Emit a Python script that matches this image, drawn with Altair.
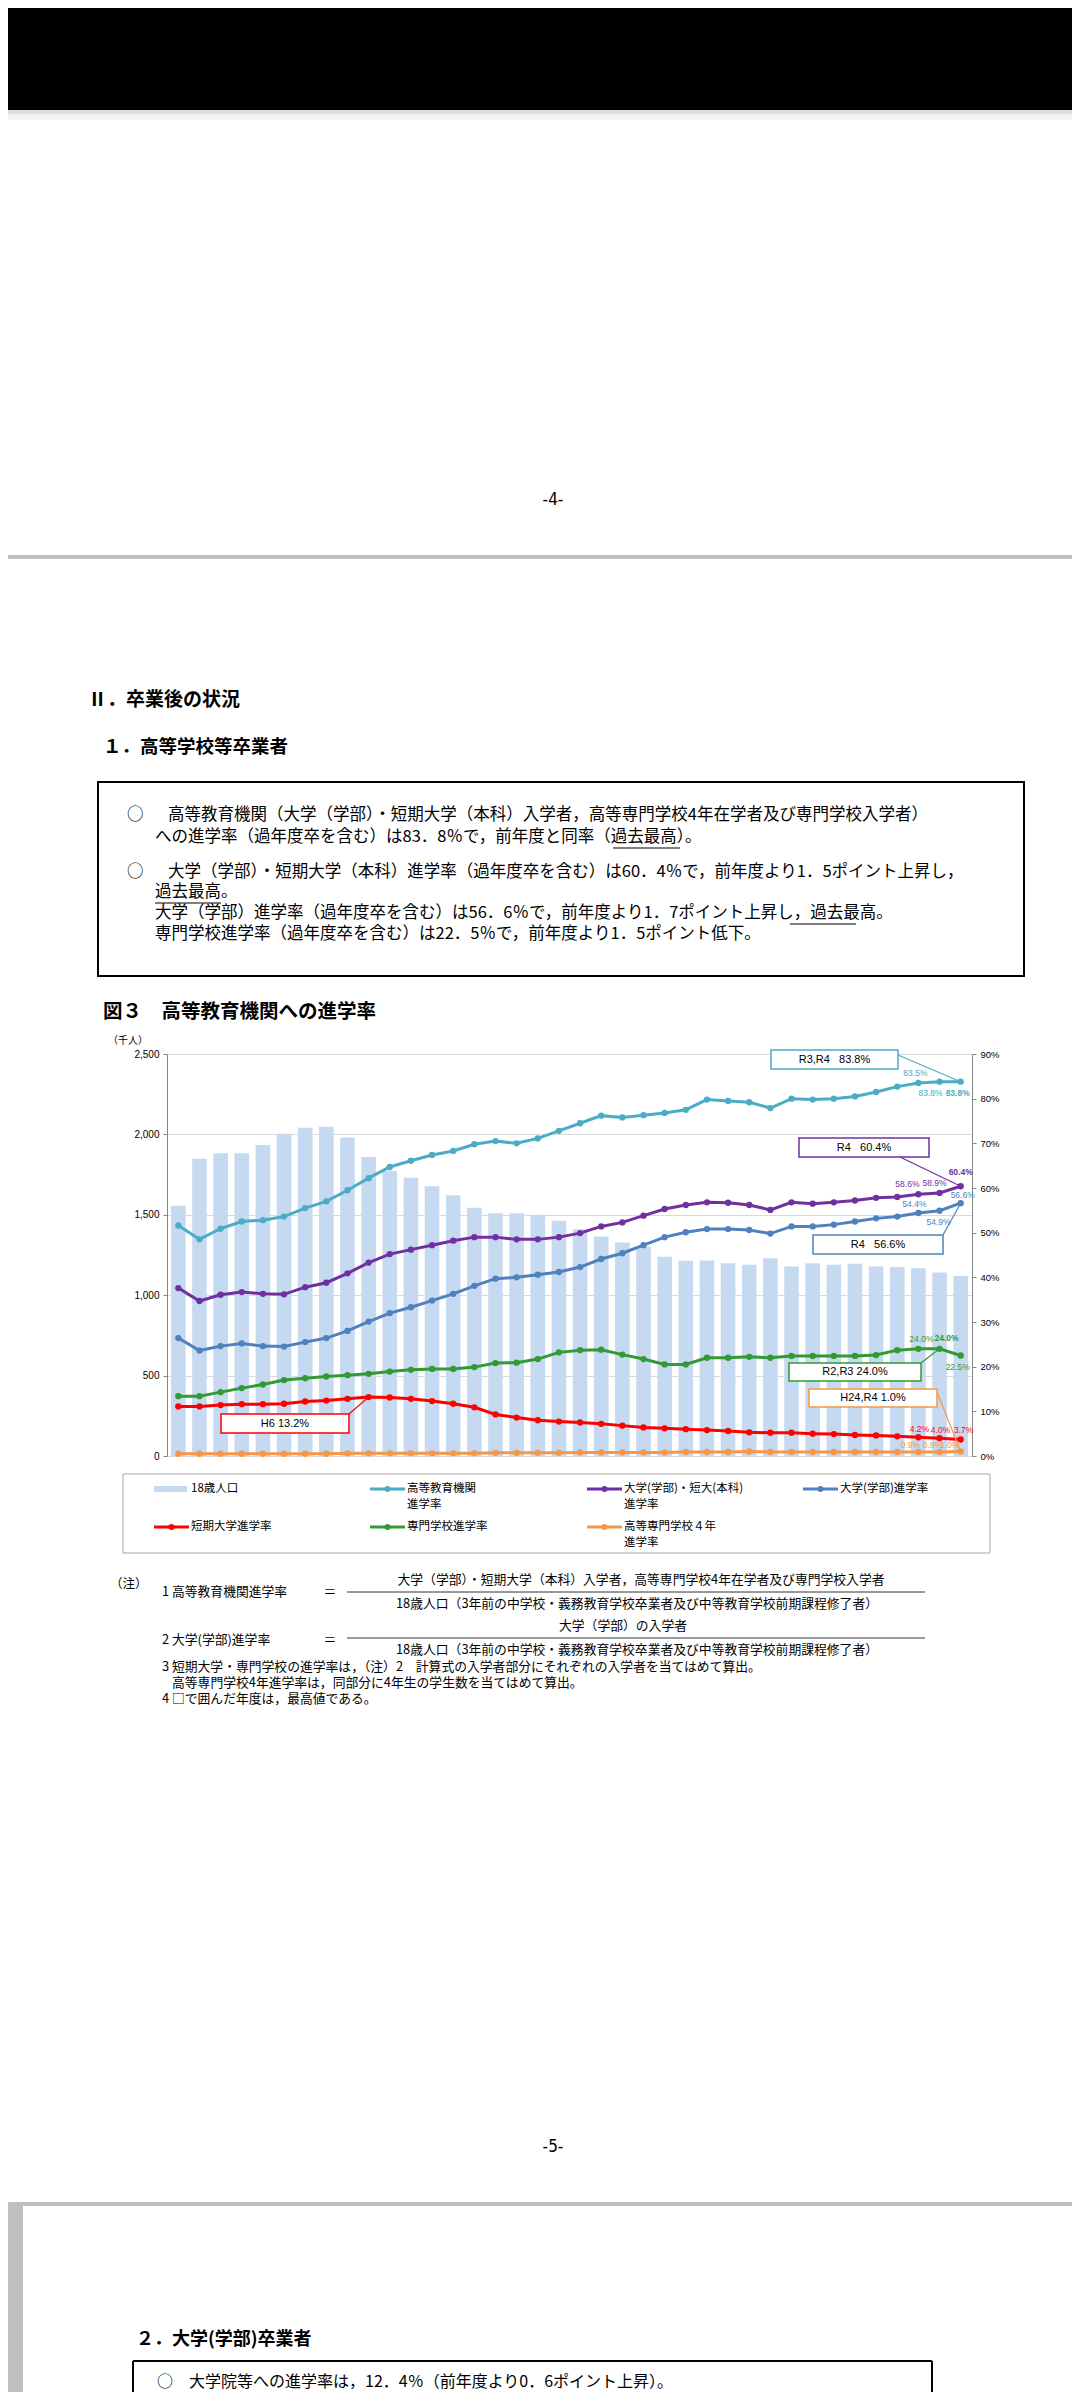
import altair as alt
import pandas as pd

# ---------------- data ----------------
years = list(range(1985, 2023))
x_label_map = {1985: "昭60.3", 1990: "平2.3", 1995: "7.3", 2000: "12.3", 2005: "17.3",
               2010: "22.3", 2015: "27.3", 2020: "令2.3", 2022: "4.3"}

pop18 = [1556, 1849, 1882, 1882, 1934, 2004, 2041, 2048, 1981, 1859, 1774, 1730, 1678, 1622,
         1544, 1510, 1510, 1500, 1463, 1410, 1365, 1328, 1303, 1239, 1214, 1216, 1199, 1189,
         1230, 1178, 1199, 1189, 1195, 1178, 1176, 1168, 1141, 1120]

rate_higher = [51.6, 48.5, 50.9, 52.5, 52.8, 53.6, 55.5, 57.0, 59.5, 62.2, 64.7, 66.1, 67.4, 68.3,
               69.8, 70.5, 70.0, 71.1, 72.8, 74.5, 76.2, 75.8, 76.3, 76.8, 77.5, 79.8, 79.5, 79.2,
               77.9, 80.0, 79.8, 80.0, 80.5, 81.5, 82.7, 83.5, 83.8, 83.8]
rate_univ_jc = [37.6, 34.7, 36.1, 36.7, 36.3, 36.2, 37.8, 38.8, 40.9, 43.3, 45.2, 46.2, 47.2, 48.2,
                49.0, 49.0, 48.5, 48.5, 49.0, 49.9, 51.4, 52.3, 53.8, 55.3, 56.2, 56.8, 56.7, 56.2,
                55.1, 56.8, 56.5, 56.8, 57.2, 57.8, 58.0, 58.6, 58.9, 60.4]
rate_univ = [26.4, 23.6, 24.6, 25.2, 24.6, 24.5, 25.5, 26.4, 28.0, 30.1, 32.0, 33.3, 34.8, 36.3,
             38.1, 39.7, 40.0, 40.6, 41.2, 42.3, 44.1, 45.4, 47.2, 49.0, 50.1, 50.8, 50.8, 50.6,
             49.8, 51.4, 51.4, 51.8, 52.5, 53.2, 53.6, 54.4, 54.9, 56.6]
rate_jc = [11.1, 11.1, 11.4, 11.6, 11.6, 11.7, 12.2, 12.4, 12.8, 13.2, 13.1, 12.8, 12.3, 11.7,
           10.9, 9.3, 8.6, 8.0, 7.7, 7.5, 7.2, 6.8, 6.4, 6.2, 6.0, 5.8, 5.6, 5.3, 5.2, 5.2, 5.0,
           4.9, 4.7, 4.6, 4.4, 4.2, 4.0, 3.7]
rate_senmon = [13.4, 13.4, 14.3, 15.2, 16.0, 17.0, 17.4, 17.8, 18.1, 18.4, 18.9, 19.3, 19.5, 19.5,
               19.9, 20.8, 20.9, 21.7, 23.2, 23.7, 23.8, 22.7, 21.7, 20.5, 20.5, 22.0, 22.0, 22.2,
               22.0, 22.4, 22.4, 22.4, 22.4, 22.6, 23.7, 24.0, 24.0, 22.5]
rate_kosen = [0.5, 0.5, 0.5, 0.5, 0.5, 0.5, 0.5, 0.5, 0.6, 0.6, 0.6, 0.6, 0.6, 0.6, 0.6, 0.7, 0.7,
              0.7, 0.7, 0.8, 0.8, 0.8, 0.8, 0.8, 0.9, 0.9, 0.9, 1.0, 0.9, 0.9, 0.9, 0.9, 0.9, 0.9,
              0.9, 0.9, 0.9, 1.0]

series_names = ["高等教育機関進学率", "大学(学部)・短大(本科)進学率", "大学(学部)進学率",
                "短期大学進学率", "専門学校進学率", "高等専門学校4年進学率"]
series_values = [rate_higher, rate_univ_jc, rate_univ, rate_jc, rate_senmon, rate_kosen]
series_colors = ["#4BACC6", "#7030A0", "#4F81BD", "#FF0000", "#339933", "#F79646"]

# value labels: (series index, year index)
label_specs = [(0, 35), (0, 36), (0, 37),
               (1, 35), (1, 36), (1, 37),
               (2, 35), (2, 36), (2, 37),
               (4, 35), (4, 36), (4, 37),
               (3, 35), (3, 36), (3, 37),
               (5, 35), (5, 36), (5, 37)]

# callouts: (series index, year index, text)
callout_texts = [(0, 37, "R3,R4\u00a0\u00a0\u00a083.8%"), (1, 37, "R4\u00a0\u00a0\u00a060.4%"),
                 (2, 37, "R4\u00a0\u00a0\u00a056.6%"), (4, 36, "R2,R3 24.0%"),
                 (5, 37, "H24,R4 1.0%"), (3, 9, "H6 13.2%")]

legend_labels = [["18歳人口"], ["高等教育機関", "進学率"], ["大学(学部)・短大(本科)", "進学率"],
                 ["大学(学部)進学率"], ["短期大学進学率"], ["専門学校進学率"], ["高等専門学校４年", "進学率"]]

# ---------------- styling / placement (not data) ----------------
# label offsets (dx, dy) in pixels, parallel to label_specs
label_offsets = [(-3, -10), (-9, 11), (-3, 11),
                 (-11, -10), (-5, -10), (0, -14),
                 (-4, -9), (-1, 11), (2, -8),
                 (3, -10), (7, -11), (-3, 11),
                 (1, -8), (1, -8), (3, -9),
                 (-8, -7), (-7, -7), (-11, -7)]
label_bold = {(1, 37), (4, 36), (0, 37)}

X0, Y0 = 167, 1054          # plot origin in page coordinates
JP = "Noto Sans CJK JP"
NUM = "Liberation Sans"
NARROW = "Liberation Sans Narrow, DejaVu Sans Condensed, Liberation Sans"
one = pd.DataFrame({"k": [0]})


def T(px, py, s, size=12, align="left", weight="normal", font=JP, color="#000000"):
    return alt.Chart(one).mark_text(align=align, baseline="middle", fontSize=size,
                                    fontWeight=weight, font=font, color=color).encode(
        x=alt.value(px - X0), y=alt.value(py - Y0), text=alt.value(s))


def RECT(x1, y1, x2, y2, fill="transparent", stroke=None, sw=1.0):
    kw = dict(fill=fill)
    if stroke:
        kw.update(stroke=stroke, strokeWidth=sw)
    return alt.Chart(one).mark_rect(**kw).encode(
        x=alt.value(x1 - X0), x2=alt.value(x2 - X0), y=alt.value(y1 - Y0), y2=alt.value(y2 - Y0))


def LINE(x1, y1, x2, y2, color="#000000", sw=1.0):
    return alt.Chart(one).mark_rule(color=color, strokeWidth=sw).encode(
        x=alt.value(x1 - X0), x2=alt.value(x2 - X0), y=alt.value(y1 - Y0), y2=alt.value(y2 - Y0))


def DOT(px, py, color, size=36):
    return alt.Chart(one).mark_circle(size=size, color=color, opacity=1).encode(
        x=alt.value(px - X0), y=alt.value(py - Y0))


# ---------------- page decoration ----------------
BOX_FS = 16.5
decor = [
    RECT(8, 8, 1072, 2392, fill="transparent"),
    RECT(8, 8, 1072, 110, fill="#000000"),
    RECT(8, 110, 1072, 114, fill="#DDDDDD"),
    RECT(8, 114, 1072, 120, fill="#F2F2F2"),
    T(553, 500, "-4-", size=17, align="center", font=NARROW),
    RECT(8, 555, 1072, 559, fill="#C0C0C0"),
    T(88, 700, "Ⅱ．卒業後の状況", size=19, weight="bold"),
    T(103, 747, "１．高等学校等卒業者", size=18.5, weight="bold"),
    RECT(98, 782, 1024, 976, fill="#FFFFFF", stroke="#000000", sw=2),
    T(127, 815, "○", size=BOX_FS),
    T(168, 815, "高等教育機関（大学（学部）・短期大学（本科）入学者，高等専門学校4年在学者及び専門学校入学者）", size=BOX_FS),
    T(155, 837, "への進学率（過年度卒を含む）は83．8％で，前年度と同率（過去最高）。", size=BOX_FS),
    T(127, 872, "○", size=BOX_FS),
    T(168, 872, "大学（学部）・短期大学（本科）進学率（過年度卒を含む）は60．4％で，前年度より1．5ポイント上昇し，", size=BOX_FS),
    T(155, 892, "過去最高。", size=BOX_FS),
    T(155, 913, "大学（学部）進学率（過年度卒を含む）は56．6％で，前年度より1．7ポイント上昇し，過去最高。", size=BOX_FS),
    T(155, 934, "専門学校進学率（過年度卒を含む）は22．5％で，前年度より1．5ポイント低下。", size=BOX_FS),
    LINE(613, 848, 680, 848), LINE(155, 903, 221, 903), LINE(790, 924, 856, 924),
    T(103, 1012, "図３　高等教育機関への進学率", size=19.5, weight="bold"),
    T(128, 1041, "（千人）", size=10, align="center"),
    # legend box
    RECT(123, 1474, 990, 1553, fill="#FFFFFF", stroke="#A6A6A6", sw=1),
    # notes
    T(110, 1584, "（注）", size=12.5),
    T(162, 1592, "1 高等教育機関進学率", size=12.8),
    T(330, 1592, "＝", size=12.8, align="center"),
    T(641, 1580, "大学（学部）・短期大学（本科）入学者，高等専門学校4年在学者及び専門学校入学者", size=12.8, align="center"),
    LINE(347, 1592, 925, 1592, color="#333333", sw=1),
    T(637, 1604, "18歳人口（3年前の中学校・義務教育学校卒業者及び中等教育学校前期課程修了者）", size=12.8, align="center"),
    T(162, 1640, "2 大学(学部)進学率", size=12.8),
    T(330, 1640, "＝", size=12.8, align="center"),
    T(623, 1626, "大学（学部）の入学者", size=12.8, align="center"),
    LINE(347, 1638, 925, 1638, color="#333333", sw=1),
    T(637, 1650, "18歳人口（3年前の中学校・義務教育学校卒業者及び中等教育学校前期課程修了者）", size=12.8, align="center"),
    T(162, 1667, "3 短期大学・専門学校の進学率は，（注）2　計算式の入学者部分にそれぞれの入学者を当てはめて算出。", size=12.8),
    T(172, 1683, "高等専門学校4年進学率は，同部分に4年生の学生数を当てはめて算出。", size=12.8),
    T(162, 1699, "4 □で囲んだ年度は，最高値である。", size=12.8),
    # lower page
    T(553, 2147, "-5-", size=17, align="center", font=NARROW),
    RECT(8, 2202, 1072, 2206, fill="#C0C0C0"),
    RECT(8, 2206, 23, 2392, fill="#C0C0C0"),
    T(136, 2340, "２．大学(学部)卒業者", size=18, weight="bold"),
    LINE(133, 2361, 932, 2361, sw=2), LINE(133, 2361, 133, 2392, sw=2), LINE(932, 2361, 932, 2392, sw=2),
    T(157, 2382, "○　大学院等への進学率は，12．4％（前年度より0．6ポイント上昇）。", size=16),
]

# legend entries
leg_cols = [154, 370, 587, 803]
leg_rows = [1489, 1527]
leg_pos = [(0, 0), (1, 0), (2, 0), (3, 0), (0, 1), (1, 1), (2, 1)]
leg_colors = ["#C5D9F1", series_colors[0], series_colors[1], series_colors[2],
              series_colors[3], series_colors[4], series_colors[5]]
legend_layers = []
for i, (c, r) in enumerate(leg_pos):
    lx, ly = leg_cols[c], leg_rows[r]
    if i == 0:
        legend_layers.append(RECT(lx, ly - 3, lx + 33, ly + 3, fill=leg_colors[i]))
    else:
        legend_layers.append(LINE(lx, ly, lx + 35, ly, color=leg_colors[i], sw=3))
        legend_layers.append(DOT(lx + 17.5, ly, leg_colors[i], size=36))
    for j, s in enumerate(legend_labels[i]):
        legend_layers.append(T(lx + 37, ly + 16 * j, s, size=11.5))

# ---------------- chart layers ----------------
df_pop = pd.DataFrame({"year": years, "pop": pop18})
rows = []
for name, vals in zip(series_names, series_values):
    for y, v in zip(years, vals):
        rows.append({"year": y, "series": name, "value": v})
df_rates = pd.DataFrame(rows)

label_expr = " : ".join(f"datum.label == '{y}' ? '{lab}'" for y, lab in x_label_map.items()) + " : ''"

bars = alt.Chart(df_pop).mark_bar(color="#C5D9F1").encode(
    x=alt.X("year:O", scale=alt.Scale(paddingInner=0.31, paddingOuter=0.19),
            axis=alt.Axis(title=None, labelAngle=0, labelExpr=label_expr, labelOverlap=False,
                          tickBand="extent", tickSize=4, tickColor="#868686", domainColor="#868686",
                          labelFont=JP, labelFontSize=9.5, labelColor="#000000", labelPadding=2)),
    y=alt.Y("pop:Q", scale=alt.Scale(domain=[0, 2500], nice=False),
            axis=alt.Axis(title=None, values=[0, 500, 1000, 1500, 2000, 2500], format=",d",
                          grid=True, gridColor="#D9D9D9", domainColor="#868686", tickColor="#868686",
                          tickSize=4, labelFont=NUM, labelFontSize=10, labelColor="#000000",
                          labelPadding=4)),
)

pct_scale = alt.Scale(domain=[0, 90], nice=False)
color_scale = alt.Scale(domain=series_names, range=series_colors)
x_plain = alt.X("year:O", axis=None)

lines = alt.Chart(df_rates).mark_line(strokeWidth=3).encode(
    x=x_plain,
    y=alt.Y("value:Q", scale=pct_scale,
            axis=alt.Axis(orient="right", title=None, values=list(range(0, 100, 10)),
                          labelExpr="datum.value + '%'", grid=False, domainColor="#868686",
                          tickColor="#868686", tickSize=4, labelFont=NUM, labelFontSize=9.5,
                          labelColor="#000000", labelPadding=4)),
    color=alt.Color("series:N", scale=color_scale, legend=None),
)
points = alt.Chart(df_rates).mark_circle(size=40, opacity=1).encode(
    x=x_plain, y=alt.Y("value:Q", scale=pct_scale, axis=None),
    color=alt.Color("series:N", scale=color_scale, legend=None),
)

label_layers = []
for (si, yi), (dx, dy) in zip(label_specs, label_offsets):
    v = series_values[si][yi]
    d = pd.DataFrame({"year": [years[yi]], "series": [series_names[si]], "value": [v],
                      "text": [f"{v:.1f}%"]})
    label_layers.append(alt.Chart(d).mark_text(
        fontSize=8.5, font=NUM, dx=dx, dy=dy,
        fontWeight="bold" if (si, yi) in label_bold else "normal").encode(
        x=x_plain, y=alt.Y("value:Q", scale=pct_scale, axis=None), text="text:N",
        color=alt.Color("series:N", scale=color_scale, legend=None)))

# callout boxes (page coordinates of box and leader start)
box_geom = [(771, 1050, 898, 1069, 898, 1055), (799, 1138, 929, 1157, 900, 1157),
            (813, 1235, 943, 1254, 943, 1235), (789, 1363, 921, 1381, 921, 1363),
            (809, 1389, 937, 1407, 937, 1392), (221, 1414, 349, 1433, 349, 1414)]
leaders, boxes = [], []
for (si, yi, txt), (bx1, by1, bx2, by2, lx, ly) in zip(callout_texts, box_geom):
    col = series_colors[si]
    d = pd.DataFrame({"year": [years[yi]], "value": [series_values[si][yi]]})
    leaders.append(alt.Chart(d).mark_rule(color=col, strokeWidth=1.2).encode(
        x=alt.X("year:O", axis=None, bandPosition=0.5),
        y=alt.Y("value:Q", scale=pct_scale, axis=None),
        x2=alt.value(lx - X0), y2=alt.value(ly - Y0)))
    boxes.append(RECT(bx1, by1, bx2, by2, fill="#FFFFFF", stroke=col, sw=1.5))
    boxes.append(T((bx1 + bx2) / 2, (by1 + by2) / 2, txt, size=11, align="center", font=NUM))

layers = decor + legend_layers + [bars, lines, points] + leaders + boxes + label_layers

chart = alt.layer(*layers).resolve_scale(y="independent").properties(
    width=805, height=402, padding=0, autosize=alt.AutoSizeParams(type="pad")
).configure_view(stroke=None)

chart.save("out.html", embed_options={"renderer": "svg", "actions": False})
